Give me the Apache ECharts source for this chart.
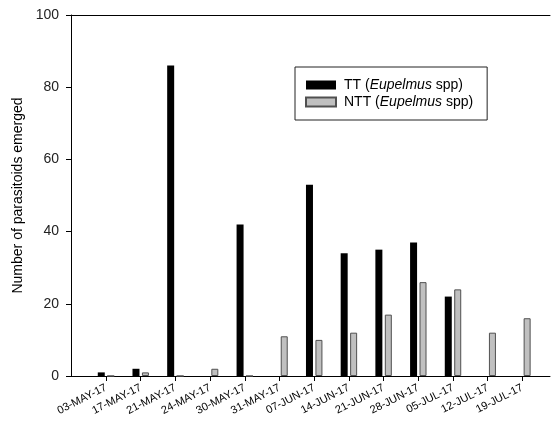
<!DOCTYPE html>
<html><head><meta charset="utf-8">
<script src="https://cdn.jsdelivr.net/npm/echarts@6/dist/echarts.min.js"></script>
<style>html,body{margin:0;padding:0;background:#fff}#c{width:555px;height:430px}</style>
</head><body><div id="c"></div>
<script>
const categories = ['03-MAY-17','17-MAY-17','21-MAY-17','24-MAY-17','30-MAY-17','31-MAY-17','07-JUN-17','14-JUN-17','21-JUN-17','28-JUN-17','05-JUL-17','12-JUL-17','19-JUL-17'];
const seriesNames = ['TT (Eupelmus spp)', 'NTT (Eupelmus spp)'];
const ttValues = [1, 2, 86, 0, 42, 0, 53, 34, 35, 37, 22, 0, 0];
const nttValues = [0, 1, 0, 2, 0, 11, 10, 12, 17, 26, 24, 12, 16];
const yMin = 0, yMax = 100, yStep = 20;
const yTitle = 'Number of parasitoids emerged';

const FONT = 'Liberation Sans, Arial, sans-serif';
const chart = echarts.init(document.getElementById('c'), null, {renderer: 'canvas'});
chart.setOption({
  animation: false,
  backgroundColor: '#fff',
  textStyle: {fontFamily: FONT},
  grid: [
    {left: 71, right: 5, top: 15, bottom: 54, containLabel: false, outerBoundsMode: 'none'},
    {left: 88.65, right: 15.25, top: 15, bottom: 54, containLabel: false, outerBoundsMode: 'none'}
  ],
  legend: {
    data: seriesNames,
    orient: 'vertical',
    left: 295, top: 67,
    padding: [11, 14, 11, 10],
    itemGap: 3,
    itemWidth: 30, itemHeight: 9,
    icon: 'rect',
    borderColor: '#222', borderWidth: 1,
    textStyle: {
      fontFamily: FONT, fontSize: 14, color: '#000', padding: [0, 0, 0, 3],
      rich: {
        n: {fontFamily: FONT, fontSize: 14, color: '#000'},
        i: {fontFamily: FONT, fontSize: 14, color: '#000', fontStyle: 'italic'}
      }
    },
    formatter: function (name) {
      const m = name.match(/^(.*\()(.+?)( spp\))$/);
      return m ? '{n|' + m[1] + '}{i|' + m[2] + '}{n|' + m[3] + '}' : name;
    }
  },
  xAxis: [
    {gridIndex: 0, type: 'value', min: 0, max: 1, position: 'bottom',
     axisLine: {show: true, lineStyle: {color: '#000', width: 1}},
     axisTick: {show: false}, axisLabel: {show: false}, splitLine: {show: false}},
    {gridIndex: 0, type: 'value', min: 0, max: 1, position: 'top',
     axisLine: {show: true, lineStyle: {color: '#000', width: 1}},
     axisTick: {show: false}, axisLabel: {show: false}, splitLine: {show: false}},
    {gridIndex: 1, type: 'category', data: categories, position: 'bottom',
     axisLine: {show: false},
     axisTick: {show: true, alignWithLabel: true, length: 5, lineStyle: {color: '#000'}},
     axisLabel: {interval: 0, rotate: 27, fontSize: 11, color: '#000', margin: 11, fontFamily: FONT},
     splitLine: {show: false}}
  ],
  yAxis: [
    {gridIndex: 0, type: 'value', min: yMin, max: yMax, interval: yStep,
     name: yTitle, nameLocation: 'middle', nameGap: 46,
     nameTextStyle: {fontSize: 14, color: '#000', fontFamily: FONT},
     axisLine: {show: true, lineStyle: {color: '#000', width: 1}},
     axisTick: {show: true, length: 5, lineStyle: {color: '#000'}},
     axisLabel: {fontSize: 14, color: '#222', margin: 12, fontFamily: FONT},
     splitLine: {show: false}},
    {gridIndex: 1, type: 'value', min: yMin, max: yMax, interval: yStep, show: false, splitLine: {show: false}}
  ],
  series: [
    {name: seriesNames[0], type: 'bar', xAxisIndex: 2, yAxisIndex: 1, data: ttValues,
     barWidth: 7, barGap: '35%', itemStyle: {color: '#000'}},
    {name: seriesNames[1], type: 'bar', xAxisIndex: 2, yAxisIndex: 1, data: nttValues,
     barWidth: 7, barGap: '35%', itemStyle: {color: '#c0c0c0', borderColor: '#505050', borderWidth: 1}}
  ]
});
</script></body></html>
